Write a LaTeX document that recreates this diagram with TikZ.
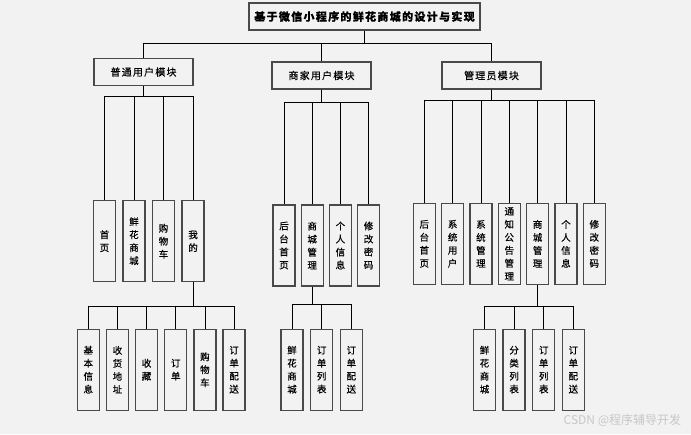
\documentclass[tikz,border=0pt]{standalone}
\usepackage{fontspec}
\setmainfont[FakeBold=0.4]{Noto Sans CJK SC}
\newfontfamily\cjkwide[LetterSpace=12,FakeBold=0.4]{Noto Sans CJK SC}
\newfontfamily\cjkplain{Noto Sans CJK SC}
\usetikzlibrary{positioning}
\definecolor{bg}{HTML}{F2F2F2}
\definecolor{edge}{HTML}{4A4A4A}
\begin{document}
\begin{tikzpicture}[x=1pt, y=-1pt, thick,
    box/.style = {draw=edge, line width=1.4pt, fill=bg, inner sep=0pt},
    head/.style = {box, minimum width=99pt, minimum height=27pt, font=\cjkwide\fontsize{10}{12}\selectfont},
    leaf/.style = {box, minimum width=22pt, minimum height=81pt, align=center, font=\fontsize{9.5}{13}\selectfont},
    link/.style = {draw=black, line width=0.8pt}]
\path[fill=bg, use as bounding box] (0,0) rectangle (691,434);
% top
\node[box, minimum width=231pt, minimum height=27pt, font=\cjkwide\fontsize{11}{13}\selectfont\bfseries] (root) at (364.5,16.5) {基于微信小程序的鲜花商城的设计与实现};
\node[head] (pt) at (143.5,72) {普通用户模块};
\node[head] (sj) at (321.5,75.5) {商家用户模块};
\node[head] (gl) at (491.5,75.5) {管理员模块};
% 普通用户
\begin{scope}[node distance=29.5pt]
\node[leaf] (pt1) at (104.5,241.2) {首\\页};
\node[leaf] (pt2) [right of=pt1] {鲜\\花\\商\\城};
\node[leaf] (pt3) [right of=pt2] {购\\物\\车};
\node[leaf] (pt4) [right of=pt3] {我\\的};
\end{scope}
% 商家用户
\begin{scope}[node distance=28.2pt]
\node[leaf] (sj1) at (284,245.5) {后\\台\\首\\页};
\node[leaf] (sj2) [right of=sj1] {商\\城\\管\\理};
\node[leaf] (sj3) [right of=sj2] {个\\人\\信\\息};
\node[leaf] (sj4) [right of=sj3] {修\\改\\密\\码};
\end{scope}
% 管理员
\begin{scope}[node distance=28.33pt]
\node[leaf] (gl1) at (424.3,243.8) {后\\台\\首\\页};
\node[leaf] (gl2) [right of=gl1] {系\\统\\用\\户};
\node[leaf] (gl3) [right of=gl2] {系\\统\\管\\理};
\node[leaf] (gl4) [right of=gl3] {通\\知\\公\\告\\管\\理};
\node[leaf] (gl5) [right of=gl4] {商\\城\\管\\理};
\node[leaf] (gl6) [right of=gl5] {个\\人\\信\\息};
\node[leaf] (gl7) [right of=gl6] {修\\改\\密\\码};
\end{scope}
% 我的
\begin{scope}[node distance=29.15pt]
\node[leaf] (my1) at (88.3,369.7) {基\\本\\信\\息};
\node[leaf] (my2) [right of=my1] {收\\货\\地\\址};
\node[leaf] (my3) [right of=my2] {收\\藏};
\node[leaf] (my4) [right of=my3] {订\\单};
\node[leaf] (my5) [right of=my4] {购\\物\\车};
\node[leaf] (my6) [right of=my5] {订\\单\\配\\送};
\end{scope}
% 商家 商城管理
\begin{scope}[node distance=29.65pt]
\node[leaf] (ss1) at (292,369.7) {鲜\\花\\商\\城};
\node[leaf] (ss2) [right of=ss1] {订\\单\\列\\表};
\node[leaf] (ss3) [right of=ss2] {订\\单\\配\\送};
\end{scope}
% 管理员 商城管理
\begin{scope}[node distance=29.6pt]
\node[leaf] (gs1) at (484.5,369.7) {鲜\\花\\商\\城};
\node[leaf] (gs2) [right of=gs1] {分\\类\\列\\表};
\node[leaf] (gs3) [right of=gs2] {订\\单\\列\\表};
\node[leaf] (gs4) [right of=gs3] {订\\单\\配\\送};
\end{scope}
% links
\foreach \c in {pt,sj,gl} \draw[link] (root.south) -- ++(0,12.5) -| (\c.north);
\foreach \c in {pt1,pt2,pt3,pt4} \draw[link] (pt.south) -- ++(0,10) -| (\c.north);
\foreach \c in {sj1,sj2,sj3,sj4} \draw[link] (sj.south) -- ++(0,12.5) -| (\c.north);
\foreach \c in {gl1,gl2,gl3,gl4,gl5,gl6,gl7} \draw[link] (gl.south) -- ++(0,11) -| (\c.north);
\foreach \c in {my1,my2,my3,my4,my5,my6} \draw[link] (pt4.south) -- ++(0,24.3) -| (\c.north);
\foreach \c in {ss1,ss2,ss3} \draw[link] (sj2.south) -- ++(0,17.3) -| (\c.north);
\foreach \c in {gs1,gs2,gs3,gs4} \draw[link] (gl5.south) -- ++(0,21.4) -| (\c.north);
\node[text=black!22, font=\cjkplain\fontsize{12}{14}\selectfont, anchor=west] (wm) at (560,420) {CSDN @程序辅导开发};
\end{tikzpicture}
\end{document}
